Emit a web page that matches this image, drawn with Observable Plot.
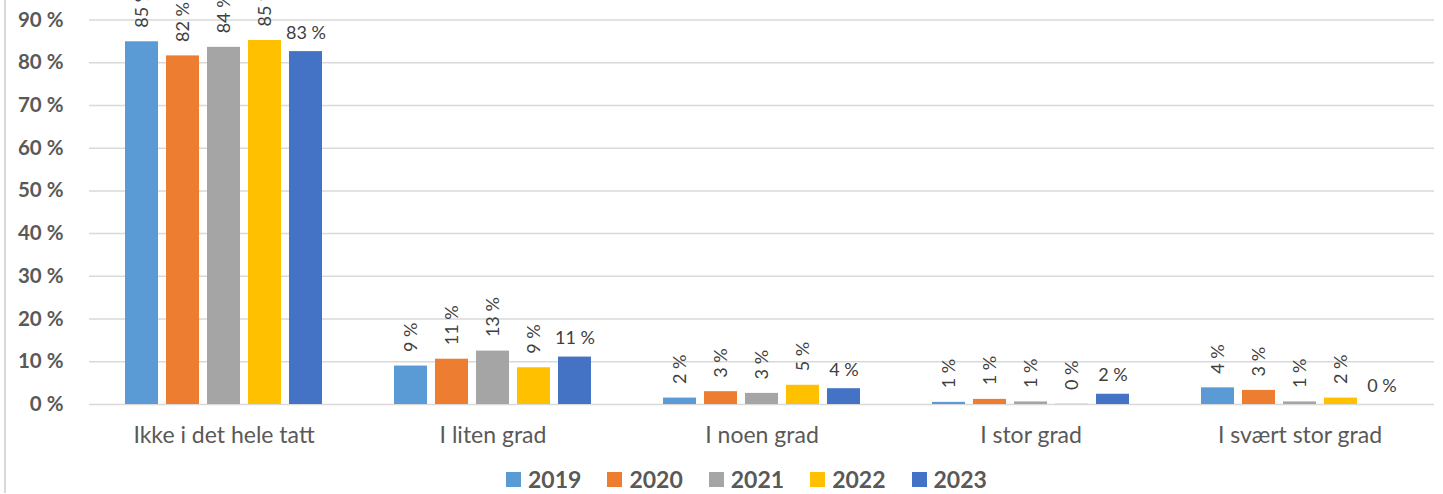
<!DOCTYPE html>
<html>
<head>
<meta charset="utf-8">
<script src="https://cdn.jsdelivr.net/npm/d3@7"></script>
<script src="https://cdn.jsdelivr.net/npm/@observablehq/plot@0.6"></script>
<style>
  html, body { margin: 0; padding: 0; background: #fff; }
  #wrap { position: relative; width: 1443px; height: 494px; overflow: hidden; font-family: Lato, "Open Sans", sans-serif; }
  #border { position: absolute; left: 4px; top: 0; width: 2px; height: 493px; background: #d9d9d9; }
  #legend { position: absolute; left: 506px; top: 465px; display: flex; align-items: center; height: 28px; }
  .item { display: flex; align-items: center; margin-right: 26px; }
  .sw { width: 15px; height: 15px; margin-right: 7px; }
  .lab { font-weight: bold; font-size: 23px; color: #595959; }
</style>
</head>
<body>
<div id="wrap">
  <div id="chart"></div>
  <div id="border"></div>
  <div id="legend"></div>
</div>
<script>
const categories = ["Ikke i det hele tatt", "I liten grad", "I noen grad", "I stor grad", "I svært stor grad"];
const years = ["2019", "2020", "2021", "2022", "2023"];
const v2019 = [84.9, 9.0, 1.5, 0.5, 3.9];
const v2020 = [81.6, 10.6, 3.0, 1.2, 3.3];
const v2021 = [83.6, 12.5, 2.6, 0.6, 0.6];
const v2022 = [85.2, 8.6, 4.5, 0.1, 1.5];
const v2023 = [82.6, 11.1, 3.7, 2.4, 0.0];
const yTicks = [0, 10, 20, 30, 40, 50, 60, 70, 80, 90];
const colors = ["#5B9BD5", "#ED7D31", "#A5A5A5", "#FFC000", "#4472C4"];

const series = [v2019, v2020, v2021, v2022, v2023];
const data = [];
categories.forEach((c, i) => {
  years.forEach((yr, j) => {
    data.push({category: c, year: yr, value: series[j][i]});
  });
});
const fmt = d => Math.round(d.value) + " %";

const chart = Plot.plot({
  width: 1443,
  height: 456,
  marginLeft: 88,
  marginRight: 8,
  marginTop: 19.5,
  marginBottom: 52,
  style: {fontFamily: "Lato, 'Open Sans', sans-serif", color: "#595959", background: "transparent", overflow: "visible"},
  fx: {domain: categories, padding: 0, axis: null, label: null},
  x: {domain: years, paddingInner: 0.2, paddingOuter: 0.86, axis: null, label: null},
  y: {domain: [0, 90], axis: null, label: null},
  color: {domain: years, range: colors},
  marks: [
    Plot.gridY(yTicks, {stroke: "#d9d9d9", strokeOpacity: 1, strokeWidth: 1.5}),
    Plot.axisY(yTicks, {tickSize: 0, tickPadding: 26, fontSize: 20.5, fontWeight: "bold", tickFormat: d => d + " %", label: null}),
    Plot.text(categories, {fx: d => d, text: d => d, frameAnchor: "bottom", lineAnchor: "top", dy: 22, fontSize: 23, fill: "#595959"}),
    Plot.barY(data, {fx: "category", x: "year", y: "value", fill: "year"}),
    Plot.text(data.filter(d => d.year !== "2023"), {
      fx: "category", x: "year", y: "value", text: fmt,
      rotate: -90, textAnchor: "start", dy: -14, fontSize: 18, fill: "#404040"
    }),
    Plot.text(data.filter(d => d.year === "2023"), {
      fx: "category", x: "year", y: "value", text: fmt,
      lineAnchor: "bottom", dy: -13, fontSize: 18, fill: "#404040"
    })
  ]
});
document.getElementById("chart").appendChild(chart);

const legend = document.getElementById("legend");
years.forEach((yr, j) => {
  const it = document.createElement("div");
  it.className = "item";
  const sw = document.createElement("div");
  sw.className = "sw";
  sw.style.background = colors[j];
  const lb = document.createElement("span");
  lb.className = "lab";
  lb.textContent = yr;
  it.appendChild(sw);
  it.appendChild(lb);
  legend.appendChild(it);
});
</script>
</body>
</html>
